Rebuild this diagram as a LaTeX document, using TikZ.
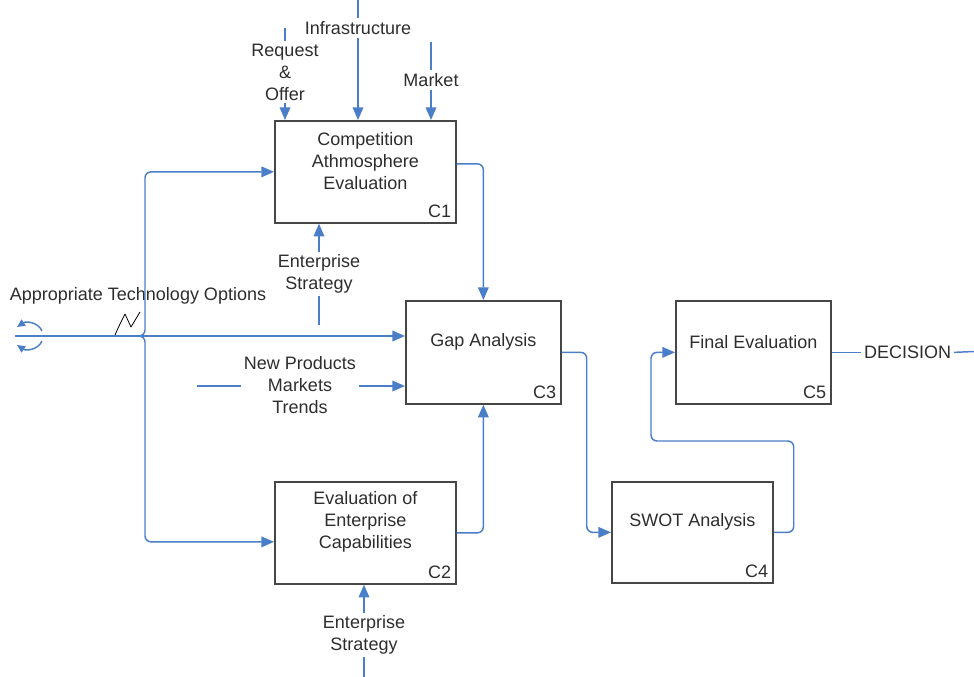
\documentclass[tikz,border=0pt]{standalone}
\usepackage{fontspec}
\setmainfont{Liberation Sans}
\usetikzlibrary{arrows.meta, positioning}

\definecolor{flowblue}{RGB}{74,126,200}
\definecolor{boxgray}{RGB}{70,70,70}
\definecolor{textgray}{RGB}{45,45,45}

\begin{document}
\begin{tikzpicture}[x=0.75pt, y=-0.75pt, font=\fontsize{13.5}{16.5}\selectfont,
    box/.style={draw=boxgray, line width=1.3pt, anchor=north west, inner sep=0pt},
    boxtext/.style={align=center, text=textgray},
    tag/.style={anchor=south east, inner sep=4pt, text=textgray},
    lbl/.style={align=center, inner sep=2pt, text=textgray},
    wire/.style={draw=flowblue, line width=1.1pt},
    flow/.style={wire, -{Triangle[length=9.5pt, width=8pt]}},
    tunnel/.style={wire, -{Triangle[length=6pt, width=5.5pt]}}]
    \useasboundingbox (0,0) rectangle (974,677);

    % activity boxes
    \node[box, minimum width=135.75pt, minimum height=76.5pt] (c1) at (274,120) {};
    \node[box, minimum width=135.75pt, minimum height=76.5pt] (c2) at (274,481) {};
    \node[box, minimum width=116.25pt, minimum height=77.25pt] (c3) at (405,300) {};
    \node[box, minimum width=120.75pt, minimum height=75.75pt] (c4) at (611,481) {};
    \node[box, minimum width=116.25pt, minimum height=77.25pt] (c5) at (675,300) {};

    \node[boxtext] (c1txt) at ([yshift=8pt]c1.center) {Competition\\Athmosphere\\Evaluation};
    \node[boxtext] (c2txt) at ([yshift=8pt]c2.center) {Evaluation of\\Enterprise\\Capabilities};
    \node[boxtext] (c3txt) at ([yshift=8pt]c3.center) {Gap Analysis};
    \node[boxtext] (c4txt) at ([yshift=8pt]c4.center) {SWOT Analysis};
    \node[boxtext] (c5txt) at ([yshift=8pt]c5.center) {Final Evaluation};

    \node[tag] (c1tag) at (c1.south east) {C1};
    \node[tag] (c2tag) at (c2.south east) {C2};
    \node[tag] (c3tag) at (c3.south east) {C3};
    \node[tag] (c4tag) at (c4.south east) {C4};
    \node[tag] (c5tag) at (c5.south east) {C5};

    % controls on top of C1
    \node[lbl] (reqoff) at (285,72) {Request\\\&\\Offer};
    \node[lbl] (infra) at (358,28) {Infrastructure};
    \node[lbl] (mkt) at (431,80) {Market};
    \coordinate (reqin) at (285,28);
    \coordinate (infrain) at (358,0);
    \coordinate (mktin) at (431,42);
    \draw[wire] (reqin) -- (reqoff.north);
    \draw[flow] (reqoff.south) -- (c1.north -| reqoff);
    \draw[wire] (infrain) -- (infra.north);
    \draw[flow] (infra.south) -- (c1.north -| infra);
    \draw[wire] (mktin) -- (mkt.north);
    \draw[flow] (mkt.south) -- (c1.north -| mkt);

    % mechanisms from below
    \node[lbl] (es1) at (319,274) {Enterprise\\Strategy};
    \coordinate (es1in) at (319,325);
    \draw[wire] (es1in) -- (es1.south);
    \draw[flow] (es1.north) -- (c1.south -| es1);

    \node[lbl] (es2) at (364,635) {Enterprise\\Strategy};
    \coordinate (es2in) at (364,677);
    \draw[wire] (es2in) -- (es2.south);
    \draw[flow] (es2.north) -- (c2.south -| es2);

    % technology options input
    \node[lbl] (ato) at (138,296) {Appropriate Technology Options};
    \coordinate (tun) at (15,336);
    \coordinate (split) at (130,336);
    \coordinate (upturn) at (145,250);
    \coordinate (downturn) at (145,450);
    \draw[flow] (tun) -- (c3.west |- tun);
    \draw[flow, rounded corners=4.5pt] (split) -| (upturn) |- (c1.west);
    \draw[flow, rounded corners=4.5pt] (split) -| (downturn) |- ([yshift=-6.75pt]c2.west);
    \draw[tunnel] (42,331) .. controls (38,322) and (26,321) .. (17,327);
    \draw[tunnel] (42,341) .. controls (38,350) and (26,351) .. (17,345);
    \draw[black, line width=0.6pt, line join=round] (115,335) .. controls (119,326) .. (125,314) -- (131,327) .. controls (135,320) .. (140,312);

    % new products input
    \node[lbl] (npm) at (300,385) {New Products\\Markets\\Trends};
    \coordinate (npmin) at (197,386);
    \draw[wire] (npmin) -- (npm.west |- npmin);
    \draw[flow] (npm.east |- npmin) -- (c3.west |- npmin);

    % box to box
    \draw[flow, rounded corners=4.5pt] ([yshift=6pt]c1.east) -| (c3.north);
    \draw[flow, rounded corners=4.5pt] (c2.east) -| (c3.south);
    \draw[flow, rounded corners=4.5pt] (c3.east) -- ++(25,0) |- (c4.west);
    \coordinate (back) at (651,441);
    \draw[flow, rounded corners=4.5pt] (c4.east) -- ++(20,0) |- (back) |- (c5.west);

    % output
    \node[lbl, right=22pt of c5] (dec) {DECISION};
    \coordinate (decout) at (974,351.5);
    \draw[wire] (c5.east) -- (dec.west);
    \draw[wire] (dec.east) -- (decout);
\end{tikzpicture}
\end{document}
